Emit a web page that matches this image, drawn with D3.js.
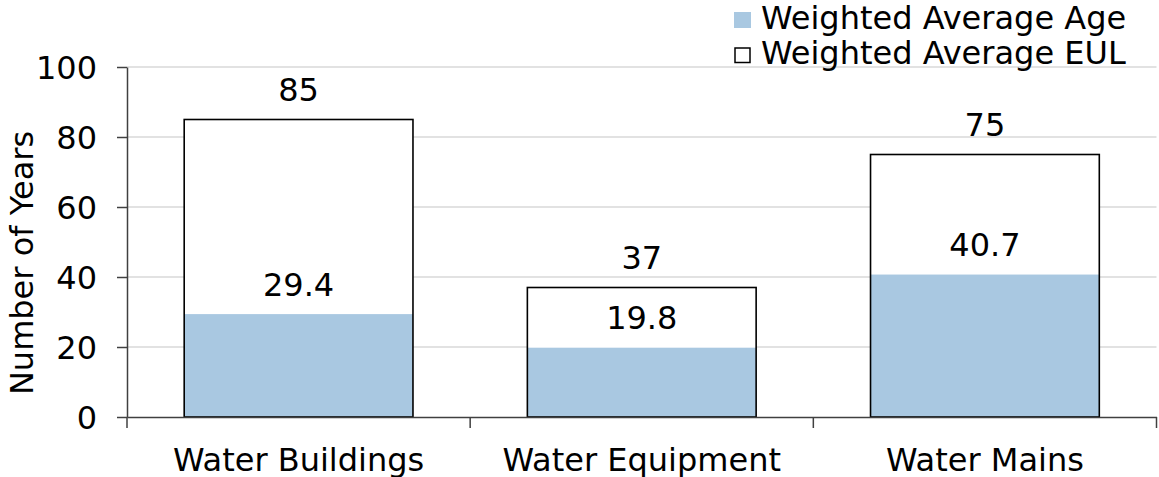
<!DOCTYPE html>
<html>
<head>
<meta charset="utf-8">
<script src="https://cdn.jsdelivr.net/npm/d3@7"></script>
<style>
  html, body { margin: 0; padding: 0; background: #fff; }
  svg { display: block; font-family: "DejaVu Sans", Verdana, sans-serif; }
</style>
</head>
<body>
<svg id="chart" width="1159" height="477"></svg>
<script>
// Asset lifecycle summary: weighted average age vs. weighted average EUL
const categories = ["Water Buildings", "Water Equipment", "Water Mains"];
const eulValues = [85, 37, 75];
const ageValues = [29.4, 19.8, 40.7];
const yTickValues = [0, 20, 40, 60, 80, 100];
const legendLabels = ["Weighted Average Age", "Weighted Average EUL"];
const yTitle = "Number of Years";

const FONT = 32;
const AGE_FILL = "#a9c8e1";
const GRID = "#d9d9d9";
const AXIS = "#404040";

const svg = d3.select("#chart");
const plotLeft = 127, plotRight = 1156.5, plotTop = 67, plotBottom = 417;

const x = d3.scaleBand()
  .domain(categories)
  .range([plotLeft, plotRight])
  .paddingInner(1 / 3)
  .paddingOuter(1 / 6);

const y = d3.scaleLinear().domain([0, 100]).range([plotBottom, plotTop]);

// gridlines
svg.append("g")
  .selectAll("line")
  .data(yTickValues.filter(v => v > 0))
  .join("line")
  .attr("x1", plotLeft).attr("x2", plotRight)
  .attr("y1", d => y(d)).attr("y2", d => y(d))
  .attr("stroke", GRID).attr("stroke-width", 1.5);

const rows = categories.map((c, i) => ({ c, eul: eulValues[i], age: ageValues[i] }));

// EUL bars (white with outline, hides gridlines)
svg.append("g")
  .selectAll("rect")
  .data(rows)
  .join("rect")
  .attr("x", d => x(d.c))
  .attr("width", x.bandwidth())
  .attr("y", d => y(d.eul))
  .attr("height", d => y(0) - y(d.eul))
  .attr("fill", "#fff");

// Age bars
svg.append("g")
  .selectAll("rect")
  .data(rows)
  .join("rect")
  .attr("x", d => x(d.c))
  .attr("width", x.bandwidth())
  .attr("y", d => y(d.age))
  .attr("height", d => y(0) - y(d.age))
  .attr("fill", AGE_FILL);

// EUL outlines on top
svg.append("g")
  .selectAll("rect")
  .data(rows)
  .join("rect")
  .attr("x", d => x(d.c))
  .attr("width", x.bandwidth())
  .attr("y", d => y(d.eul))
  .attr("height", d => y(0) - y(d.eul))
  .attr("fill", "none")
  .attr("stroke", "#000")
  .attr("stroke-width", 1.6);

// value labels
const labels = svg.append("g")
  .attr("font-size", FONT)
  .attr("text-anchor", "middle")
  .attr("fill", "#000");

labels.selectAll("text.eul")
  .data(rows)
  .join("text")
  .attr("class", "eul")
  .attr("x", d => x(d.c) + x.bandwidth() / 2)
  .attr("y", d => y(d.eul) - 18.5)
  .text(d => d3.format("d")(d.eul));

labels.selectAll("text.age")
  .data(rows)
  .join("text")
  .attr("class", "age")
  .attr("x", d => x(d.c) + x.bandwidth() / 2)
  .attr("y", d => y(d.age) - 18.5)
  .text(d => d3.format(".1f")(d.age));

// y axis
const yAxis = svg.append("g")
  .attr("transform", `translate(${plotLeft},0)`)
  .call(d3.axisLeft(y).tickValues(yTickValues).tickSize(10).tickSizeOuter(0).tickPadding(20));
yAxis.select(".domain").attr("stroke", AXIS).attr("stroke-width", 1.5);
yAxis.selectAll(".tick line").attr("stroke", AXIS).attr("stroke-width", 1.5);
yAxis.selectAll(".tick text")
  .attr("font-size", FONT)
  .attr("font-family", "DejaVu Sans, Verdana, sans-serif")
  .attr("fill", "#000")
  .attr("dy", "0.36em");

// x axis: labels centred on categories, ticks between categories
const xAxis = svg.append("g")
  .attr("transform", `translate(0,${plotBottom})`)
  .call(d3.axisBottom(x).tickSize(0).tickSizeOuter(0).tickPadding(0));
xAxis.select(".domain").attr("stroke", AXIS).attr("stroke-width", 1.5);
xAxis.selectAll(".tick text")
  .attr("font-size", FONT)
  .attr("font-family", "DejaVu Sans, Verdana, sans-serif")
  .attr("fill", "#000")
  .attr("y", 53.5)
  .attr("dy", 0);

const step = x.step();
const bounds = d3.range(categories.length + 1).map(i => plotLeft + i * step);
xAxis.selectAll("line.sep")
  .data(bounds)
  .join("line")
  .attr("class", "sep")
  .attr("x1", d => d).attr("x2", d => d)
  .attr("y1", 0).attr("y2", 11)
  .attr("stroke", AXIS).attr("stroke-width", 1.5);

// y axis title
svg.append("text")
  .attr("transform", `translate(33,263) rotate(-90)`)
  .attr("text-anchor", "middle")
  .attr("font-size", FONT)
  .attr("fill", "#000")
  .text(yTitle);

// legend
const legend = svg.append("g").attr("font-size", FONT).attr("fill", "#000");
const legendRows = [
  { label: legendLabels[0], fill: AGE_FILL, stroke: "none", baseline: 28.5 },
  { label: legendLabels[1], fill: "#fff", stroke: "#000", baseline: 63.5 }
];
legend.selectAll("rect")
  .data(legendRows)
  .join("rect")
  .attr("x", d => d.stroke === "none" ? 734 : 735)
  .attr("y", d => d.baseline - (d.stroke === "none" ? 16.5 : 15.5))
  .attr("width", d => d.stroke === "none" ? 17 : 15)
  .attr("height", d => d.stroke === "none" ? 16 : 14.5)
  .attr("fill", d => d.fill)
  .attr("stroke", d => d.stroke)
  .attr("stroke-width", 1.5);
legend.selectAll("text")
  .data(legendRows)
  .join("text")
  .attr("x", 761)
  .attr("y", d => d.baseline)
  .text(d => d.label);
</script>
</body>
</html>
